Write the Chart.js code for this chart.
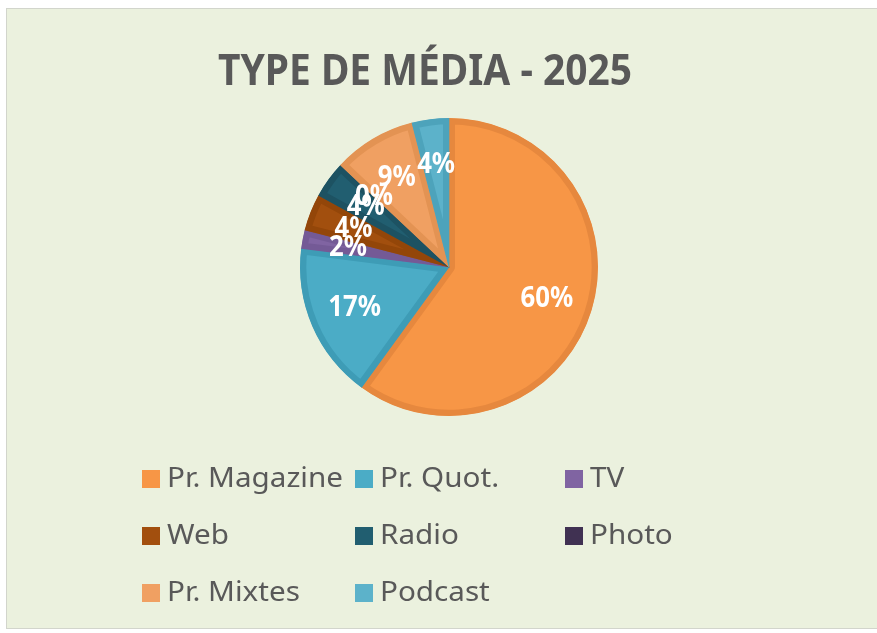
<!DOCTYPE html>
<html>
<head>
<meta charset="utf-8">
<script src="https://cdn.jsdelivr.net/npm/chart.js@4/dist/chart.umd.min.js"></script>
<style>
  html,body{margin:0;padding:0;background:#ffffff;width:877px;height:633px;overflow:hidden;}
  #frame{position:absolute;left:6px;top:8px;width:880px;height:621px;background:#EBF1DE;border:1px solid #D2D5CC;box-sizing:border-box;}
  #c{position:absolute;left:0;top:0;}
</style>
</head>
<body>
<div id="frame"></div>
<canvas id="c" width="877" height="633"></canvas>
<script>
const titleText = 'TYPE DE MÉDIA - 2025';
const labels = ['Pr. Magazine', 'Pr. Quot.', 'TV', 'Web', 'Radio', 'Photo', 'Pr. Mixtes', 'Podcast'];
const values = [60, 17, 2, 4, 4, 0, 9, 4];
const fillColors = ['#F79646', '#4BACC6', '#8064A2', '#A24F0E', '#215E70', '#403152', '#F0A062', '#5CB2CA'];
const edgeColors = ['#E6883E', '#3E9CB6', '#745A96', '#934609', '#1D5262', '#372A47', '#E39353', '#4DA3BB'];

const decor = {
  id: 'decor',
  afterDatasetsDraw(chart) {
    const ctx = chart.ctx;
    const meta = chart.getDatasetMeta(0);
    ctx.save();
    ctx.fillStyle = '#FFFFFF';
    ctx.font = 'bold 28px "Noto Sans"';
    ctx.textAlign = 'center';
    ctx.textBaseline = 'middle';
    meta.data.forEach((arc, i) => {
      const p = arc.getProps(['x', 'y', 'startAngle', 'endAngle', 'outerRadius'], true);
      const mid = (p.startAngle + p.endAngle) / 2;
      const r = p.outerRadius * 0.69;
      ctx.save();
      ctx.translate(p.x + Math.cos(mid) * r, p.y + Math.sin(mid) * r);
      ctx.scale(0.92, 1);
      ctx.fillText(values[i] + '%', 0, 0);
      ctx.restore();
    });
    ctx.restore();
  },
  afterDraw(chart) {
    const ctx = chart.ctx;
    // title
    ctx.save();
    ctx.fillStyle = '#595959';
    ctx.font = 'bold 43px "Noto Sans"';
    ctx.textBaseline = 'alphabetic';
    ctx.textAlign = 'left';
    const tw = ctx.measureText(titleText).width;
    const sx = 414 / tw;
    ctx.translate(218, 85);
    ctx.scale(sx, 1);
    ctx.fillText(titleText, 0, 0);
    ctx.restore();

    // legend (3-column grid like the original)
    ctx.save();
    ctx.font = '28px "Noto Sans"';
    const lsx = 176 / ctx.measureText('Pr. Magazine').width;
    ctx.textBaseline = 'middle';
    ctx.textAlign = 'left';
    const colX = [142, 355, 565];
    const rowY = [479, 536, 593];
    labels.forEach((lab, i) => {
      const x = colX[i % 3];
      const y = rowY[Math.floor(i / 3)];
      ctx.fillStyle = fillColors[i];
      ctx.fillRect(x, y - 9, 18, 18);
      ctx.fillStyle = '#595959';
      ctx.save();
      ctx.translate(x + 25, y);
      ctx.scale(lsx, 1);
      ctx.fillText(lab, 0, 0);
      ctx.restore();
    });
    ctx.restore();
  }
};

new Chart(document.getElementById('c'), {
  type: 'pie',
  data: {
    labels: labels,
    datasets: [{
      data: values,
      backgroundColor: fillColors,
      borderColor: edgeColors,
      borderWidth: 6,
      borderAlign: 'inner'
    }]
  },
  options: {
    responsive: false,
    animation: false,
    events: [],
    layout: { padding: { top: 118, bottom: 217, left: 300, right: 279 } },
    plugins: {
      legend: { display: false },
      title: { display: false },
      tooltip: { enabled: false }
    }
  },
  plugins: [decor]
});
</script>
</body>
</html>
